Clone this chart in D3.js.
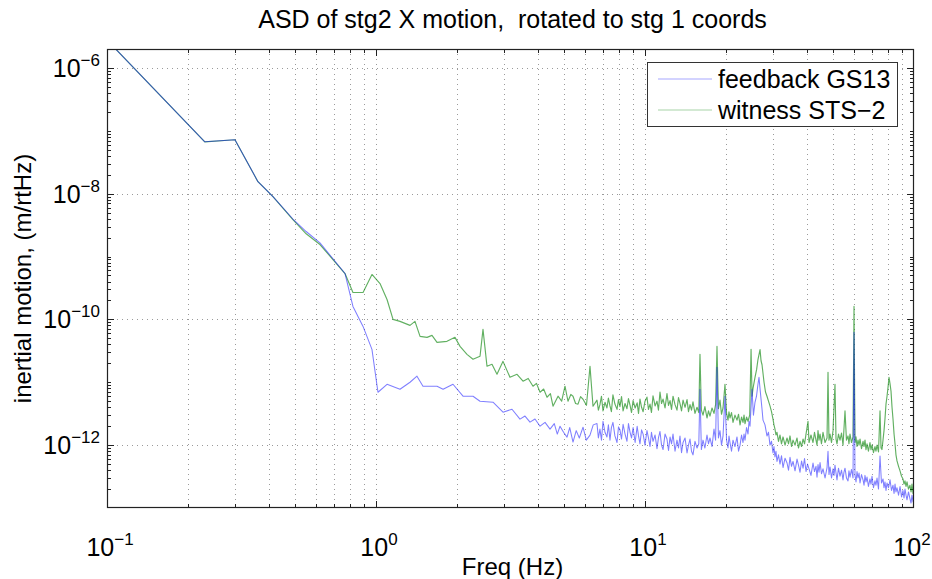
<!DOCTYPE html>
<html><head><meta charset="utf-8">
<script src="https://cdn.jsdelivr.net/npm/d3@7/dist/d3.min.js"></script>
<style>
body{margin:0;background:#fff}
text{font-family:"Liberation Sans",Arial,Helvetica,sans-serif;fill:#000}
</style>
</head><body>
<svg id="chart" width="932" height="579"></svg>
<script>
const title = "ASD of stg2 X motion,  rotated to stg 1 coords";
const xLabel = "Freq (Hz)";
const yLabel = "inertial motion, (m/rtHz)";
const seriesNames = ["feedback GS13", "witness STS\u22122"];
const xTickExps = [-1, 0, 1, 2];
const yTickExps = [-6, -8, -10, -12];
const xDomain = [0.1, 100];
const yDomain = [1e-13, 2e-6];

// [frequency (Hz), ASD (m/rtHz)]
const feedbackGS13 = [
 [0.1,2.78e-6],[0.231,6.68e-8],[0.299,7.2e-8],[0.364,1.55e-8],[0.414,8.96e-9],[0.491,3.95e-9],[0.55,2.5e-9],[0.619,1.65e-9],[0.767,5.37e-10],
 [0.821,1.61e-10],[0.895,7.74e-11],[0.966,3.34e-11],[1.017,6.94e-12],[1.099,9.29e-12],[1.228,7.74e-12],[1.338,1.0e-11],[1.42,1.25e-11],
 [1.495,8.65e-12],[1.686,8.65e-12],[1.776,7.74e-12],[1.933,9.29e-12],[2.106,6.0e-12],[2.294,6.0e-12],[2.436,4.99e-12],[2.722,4.82e-12],
 [2.966,3.34e-12],[3.203,3.72e-12],[3.43,2.59e-12],[3.58,2.9e-12],[3.737,2.32e-12],[3.9,2.6e-12],[4.072,2.0e-12],[4.25,2.3e-12],
 [4.436,1.8e-12],[4.6,2.2e-12],[4.72,1.5e-12],[4.831,2.0e-12],[4.98,1.6e-12],[5.13,1.34e-12],[5.25,1.9e-12],[5.4,1.12e-12],
 [5.55,1.7e-12],[5.7,1.3e-12],[5.883,1.93e-12],[6.05,1.2e-12],[6.245,1.44e-12],[6.42,2.1e-12],
 [6.63,2.2e-12],[6.71,1.3e-12],[6.8,1.8e-12],[6.89,1.2e-12],[6.98,2.4e-12],[7.1,1.6e-12],[7.22,1.35e-12],[7.31,2.1e-12],[7.41,1.2e-12],
 [7.5,1.9e-12],[7.6,2.3e-12],[7.73,1.4e-12],[7.87,1.1e-12],[7.97,1.95e-12],[8.07,1.75e-12],[8.18,1.25e-12],[8.29,2.15e-12],[8.43,1.5e-12],
 [8.57,1.15e-12],[8.68,2.2e-12],[8.8,1.6e-12],[8.91,1.3e-12],[9.03,1.9e-12],[9.19,1.1e-12],[9.35,2.0e-12],[9.46,1.4e-12],[9.58,1.05e-12],
 [9.71,1.75e-12],[9.84,1.5e-12],[10.0,1.0e-12],[10.17,1.7e-12],[10.3,1.3e-12],[10.44,9.5e-13],[10.57,1.6e-12],[10.71,1.15e-12],
 [10.9,1.45e-12],[11.08,8.8e-13],[11.22,1.3e-12],[11.37,1.65e-12],[11.52,1.0e-12],[11.67,8.5e-13],[11.87,1.5e-12],[12.07,1.25e-12],
 [12.23,8.2e-13],[12.39,1.35e-12],[12.55,1.05e-12],[12.71,1.5e-12],[12.93,8.0e-13],[13.15,1.2e-12],[13.32,9.0e-13],[13.49,1.4e-12],
 [13.67,7.6e-13],[13.85,1.1e-12],[14.09,1.3e-12],[14.33,7.5e-13],[14.51,1.0e-12],[14.7,1.25e-12],[14.89,8.0e-13],[15.08,7.0e-13],
 [15.34,1.15e-12],[15.61,9.0e-13],[15.85,1.05e-12],[16.01,7.74e-12],[16.2,8.5e-13],[16.43,1.2e-12],[16.7,9.0e-13],[17.0,1.45e-12],
 [17.22,1.05e-12],[17.44,1.3e-12],[17.75,9.5e-13],[18.05,1.8e-12],[18.3,1.2e-12],[18.52,1.73e-11],[18.75,1.3e-12],[19.0,1.7e-12],
 [19.25,1.0e-12],[19.5,1.4e-12],[19.83,6.0e-12],[20.1,1.2e-12],[20.35,9.0e-13],[20.52,1.4e-12],[20.7,1.1e-12],[20.97,8.0e-13],
 [21.24,1.2e-12],[21.6,9.5e-13],[21.98,1.35e-12],[22.27,8.0e-13],[22.56,1.0e-12],[22.85,1.45e-12],[23.14,1.1e-12],[23.34,1.5e-12],
 [23.54,1.2e-12],[23.85,1.9e-12],[24.15,1.5e-12],[24.36,2.4e-12],[24.57,2.0e-12],[24.99,7.74e-12],[25.3,3.0e-12],[25.64,4.8e-12],
 [25.97,6.0e-12],[26.3,9.3e-12],[26.53,1.2e-11],[26.76,8.0e-12],[26.99,5.5e-12],[27.22,3.8e-12],[27.46,2.5e-12],[27.93,2.1e-12],
 [28.41,1.4e-12],[28.78,1.6e-12],[29.15,1.0e-12],[29.53,1.15e-12],[29.91,7.5e-13],[30.16,9.5e-13],[30.42,6.5e-13],[30.68,8.0e-13],
 [30.95,5.5e-13],[31.35,7.0e-13],[31.76,5.0e-13],[32.17,6.8e-13],[32.59,4.4e-13],[33.16,6.2e-13],[33.73,5.2e-13],[34.16,4.0e-13],
 [34.6,6.4e-13],[35.05,4.6e-13],[35.5,5.5e-13],[36.12,3.9e-13],[36.74,6.0e-13],[37.2,4.8e-13],[37.7,3.7e-13],[38.19,5.6e-13],
 [38.68,4.3e-13],[39.18,6.1e-13],[39.68,3.8e-13],[40.2,5.0e-13],[40.72,4.2e-13],[41.4,3.3e-13],[42.13,5.2e-13],[42.67,3.8e-13],
 [43.22,4.6e-13],[43.6,3.1e-13],[43.97,4.9e-13],[44.35,3.7e-13],[44.74,5.3e-13],[45.3,3.5e-13],[45.89,4.2e-13],[46.7,3.0e-13],
 [47.5,4.4e-13],[47.9,8.0e-13],[48.3,3.4e-13],[48.73,4.5e-13],[49.36,3.0e-13],[50.0,4.2e-13],[50.42,3.3e-13],[50.85,4.8e-13],
 [51.3,3.6e-13],[51.73,2.8e-13],[52.4,4.3e-13],[53.08,3.2e-13],[53.77,4.0e-13],[54.47,2.8e-13],[54.9,3.7e-13],[55.4,4.3e-13],
 [56.1,3.0e-13],[56.85,2.7e-13],[57.3,3.9e-13],[57.82,3.1e-13],[58.57,4.1e-13],[59.33,3.0e-13],[59.84,6.22e-11],[60.35,3.3e-13],
 [60.87,2.6e-13],[61.4,3.8e-13],[61.93,3.0e-13],[62.47,3.6e-13],[63.0,2.5e-13],[63.8,3.4e-13],[64.64,2.8e-13],[65.2,2.3e-13],
 [65.74,3.3e-13],[66.3,2.6e-13],[66.89,3.1e-13],[67.7,2.2e-13],[68.6,2.9e-13],[69.2,2.4e-13],[69.81,3.2e-13],[70.7,2.1e-13],
 [71.6,2.7e-13],[72.2,2.3e-13],[72.87,3.0e-13],[73.8,2.0e-13],[74.76,6.7e-13],[75.7,2.5e-13],[76.71,2.9e-13],[77.35,2.1e-13],
 [78.0,2.6e-13],[78.7,1.9e-13],[79.38,2.5e-13],[80.4,2.1e-13],[81.44,2.8e-13],[82.5,1.9e-13],[83.55,2.3e-13],[84.3,1.7e-13],
 [85.01,2.4e-13],[85.7,1.8e-13],[86.46,2.1e-13],[87.6,1.6e-13],[88.73,2.2e-13],[89.9,1.5e-13],[91.0,1.9e-13],[91.8,1.45e-13],
 [92.58,2.0e-13],[93.4,1.6e-13],[94.19,1.35e-13],[95.4,1.8e-13],[96.62,1.4e-13],[97.5,1.2e-13],[98.3,1.6e-13],[99.2,1.25e-13],[100,1.5e-13]
];

const witnessSTS2 = [
 [0.1,2.78e-6],[0.231,6.68e-8],[0.299,7.2e-8],[0.364,1.55e-8],[0.414,8.96e-9],[0.491,3.87e-9],[0.55,2.3e-9],[0.619,1.55e-9],[0.767,5.37e-10],
 [0.821,2.68e-10],[0.895,2.68e-10],[0.966,5.18e-10],[1.035,3.72e-10],[1.099,2.07e-10],[1.157,1.0e-10],[1.228,9.29e-11],[1.338,8.04e-11],
 [1.396,9.29e-11],[1.458,5.37e-11],[1.548,5.18e-11],[1.615,5.57e-11],[1.686,4.32e-11],[1.836,4.48e-11],[1.966,5.18e-11],[2.053,3.72e-11],
 [2.179,2.78e-11],[2.294,2.32e-11],[2.436,2.59e-11],[2.499,6.93e-11],[2.586,1.8e-11],[2.699,1.93e-11],[2.817,1.34e-11],[2.966,2.15e-11],
 [3.148,1.2e-11],[3.344,1.34e-11],[3.52,1.04e-11],[3.68,1.15e-11],[3.834,8.65e-12],[3.95,9.6e-12],[4.072,6.94e-12],[4.2,7.8e-12],
 [4.322,5.78e-12],[4.45,6.6e-12],[4.55,4.16e-12],[4.75,6.0e-12],[4.9,5.0e-12],[5.042,8.65e-12],[5.173,4.99e-12],[5.3,6.4e-12],
 [5.4,6.0e-12],[5.52,4.6e-12],[5.637,4.48e-12],[5.76,5.9e-12],[5.883,5.37e-12],[6.06,4.3e-12],[6.245,1.8e-11],[6.408,4.16e-12],
 [6.63,5.2e-12],[6.71,3.6e-12],[6.8,4.4e-12],[6.89,6.0e-12],[6.98,3.5e-12],[7.1,4.8e-12],[7.22,3.9e-12],[7.31,5.6e-12],[7.41,4.2e-12],
 [7.5,3.4e-12],[7.6,6.3e-12],[7.73,4.5e-12],[7.87,3.7e-12],[7.97,5.3e-12],[8.07,4.1e-12],[8.18,5.9e-12],[8.29,3.5e-12],[8.43,4.6e-12],
 [8.57,3.8e-12],[8.68,5.5e-12],[8.8,4.3e-12],[8.91,3.3e-12],[9.03,5.1e-12],[9.19,3.9e-12],[9.35,4.7e-12],[9.46,3.2e-12],[9.58,5.4e-12],
 [9.71,4.0e-12],[9.84,3.4e-12],[10.0,5.0e-12],[10.17,5.8e-12],[10.3,3.7e-12],[10.44,4.5e-12],[10.57,3.3e-12],[10.71,6.1e-12],
 [10.9,4.2e-12],[11.08,5.0e-12],[11.22,3.6e-12],[11.37,7.0e-12],[11.52,4.6e-12],[11.67,5.4e-12],[11.87,3.9e-12],[12.07,6.6e-12],
 [12.23,4.3e-12],[12.39,5.1e-12],[12.55,3.7e-12],[12.71,6.0e-12],[12.93,4.4e-12],[13.15,3.6e-12],[13.32,5.7e-12],[13.49,4.6e-12],
 [13.67,3.5e-12],[13.85,5.2e-12],[14.09,4.0e-12],[14.33,5.3e-12],[14.51,3.4e-12],[14.7,4.4e-12],[14.89,3.6e-12],[15.08,4.9e-12],
 [15.34,3.2e-12],[15.61,4.0e-12],[15.85,3.3e-12],[16.01,2.78e-11],[16.2,3.6e-12],[16.43,3.0e-12],[16.7,4.1e-12],[17.0,2.7e-12],
 [17.22,3.5e-12],[17.44,2.9e-12],[17.75,3.9e-12],[18.05,3.2e-12],[18.3,4.4e-12],[18.52,3.72e-11],[18.75,3.8e-12],[19.0,5.2e-12],
 [19.25,3.1e-12],[19.5,3.9e-12],[19.83,9.3e-12],[20.1,3.2e-12],[20.35,2.5e-12],[20.52,3.4e-12],[20.7,2.7e-12],[20.97,3.3e-12],
 [21.24,2.3e-12],[21.6,3.0e-12],[21.98,2.5e-12],[22.27,3.1e-12],[22.56,2.1e-12],[22.85,2.8e-12],[23.14,2.3e-12],[23.34,3.0e-12],
 [23.54,2.2e-12],[23.85,2.8e-12],[24.15,2.4e-12],[24.5,3.0e-12],[24.79,3.34e-11],[25.0,6.0e-12],[25.21,8.0e-12],[25.64,1.2e-11],
 [26.0,1.6e-11],[26.3,2.3e-11],[26.77,3.3e-11],[27.0,2.2e-11],[27.23,1.9e-11],[27.7,1.0e-11],[28.05,7.0e-12],[28.41,6.0e-12],
 [28.78,5.0e-12],[29.15,4.2e-12],[29.53,3.4e-12],[29.91,2.6e-12],[30.16,2.1e-12],[30.42,1.8e-12],[30.68,1.45e-12],[30.95,1.6e-12],
 [31.35,1.15e-12],[31.76,1.45e-12],[32.17,1.05e-12],[32.59,1.35e-12],[33.16,1.0e-12],[33.73,1.3e-12],[34.16,1.05e-12],[34.6,1.4e-12],
 [35.05,9.5e-13],[35.5,1.2e-12],[36.12,1.0e-12],[36.74,1.3e-12],[37.2,9.0e-13],[37.7,1.15e-12],[38.19,9.5e-13],[38.68,1.25e-12],
 [39.18,1.05e-12],[39.68,1.5e-12],[40.36,2.4e-12],[40.72,1.1e-12],[41.4,1.45e-12],[42.13,1.1e-12],[42.67,1.6e-12],[43.22,1.2e-12],
 [43.6,1.0e-12],[43.97,1.7e-12],[44.35,1.2e-12],[44.74,1.5e-12],[45.3,1.05e-12],[45.89,1.6e-12],[46.7,1.1e-12],[47.5,1.3e-12],
 [47.9,1.44e-11],[48.3,1.2e-12],[48.73,1.5e-12],[49.36,1.1e-12],[50.0,1.7e-12],[50.85,9.3e-12],[51.3,1.25e-12],[51.73,1.05e-12],
 [52.4,1.5e-12],[53.08,1.2e-12],[53.77,1.55e-12],[54.47,1.0e-12],[55.4,3.5e-12],[56.1,1.2e-12],[56.85,1.4e-12],[57.3,1.05e-12],
 [57.82,1.5e-12],[58.57,1.1e-12],[59.33,1.35e-12],[59.84,1.61e-10],[60.35,1.1e-12],[60.87,1.35e-12],[61.4,9.5e-13],[61.93,1.2e-12],
 [62.47,1.0e-12],[63.0,1.25e-12],[63.8,8.8e-13],[64.64,1.15e-12],[65.2,9.5e-13],[65.74,1.2e-12],[66.3,8.5e-13],[66.89,1.05e-12],
 [67.7,8.0e-13],[68.6,1.1e-12],[69.2,8.5e-13],[69.81,1.0e-12],[70.7,7.6e-13],[71.6,9.5e-13],[72.2,8.0e-13],[72.87,1.0e-12],
 [73.8,7.8e-13],[74.76,3.5e-12],[75.4,9.0e-13],[76.0,8.5e-13],[76.7,1.2e-12],[77.36,1.7e-12],[78.0,2.6e-12],[78.69,4.5e-12],
 [79.38,6.0e-12],[80.06,8.3e-12],[80.75,1.2e-11],[81.44,9.5e-12],[82.14,7.2e-12],[82.85,4.0e-12],[83.55,2.6e-12],[84.3,1.5e-12],
 [85.01,1.05e-12],[85.7,7.0e-13],[86.46,5.6e-13],[87.6,4.6e-13],[88.73,3.9e-13],[89.9,3.2e-13],[91.0,2.9e-13],[91.8,2.4e-13],
 [92.58,2.7e-13],[93.4,2.2e-13],[94.19,2.6e-13],[95.4,2.0e-13],[96.62,2.3e-13],[97.5,1.8e-13],[98.3,2.4e-13],[99.2,1.7e-13],[100,1.9e-13]
];

const seriesColors = ["#0000ff", "#007f00"];

const svg = d3.select("#chart");
const M = {l:107, r:914, t:49, b:508};
const x = d3.scaleLog().domain(xDomain).range([M.l, M.r]);
const y = d3.scaleLog().domain(yDomain).range([M.b, M.t]);

svg.append("rect").attr("width",932).attr("height",579).attr("fill","#fff");

// grid
const xMinor = [];
for (let e = -1; e < 2; e++) for (let k = 1; k <= 9; k++) {
  const v = k * Math.pow(10, e);
  if (v > xDomain[0] * 1.0001 && v < xDomain[1] * 0.9999) xMinor.push(v);
}
const grid = svg.append("g").attr("stroke","#9a9a9a").attr("stroke-width",1).attr("stroke-dasharray","1,4");
grid.selectAll("line.vx").data(xMinor).join("line")
  .attr("x1",d=>Math.round(x(d))+0.5).attr("x2",d=>Math.round(x(d))+0.5).attr("y1",M.t).attr("y2",M.b);
grid.selectAll("line.hy").data(yTickExps.map(e=>Math.pow(10,e))).join("line")
  .attr("y1",d=>Math.round(y(d))+0.5).attr("y2",d=>Math.round(y(d))+0.5).attr("x1",M.l).attr("x2",M.r);

// ticks
const tk = svg.append("g").attr("stroke","#222").attr("stroke-width",1);
const xMaj = xTickExps.map(e=>Math.pow(10,e));
xMinor.forEach(v=>{
  const isMaj = xMaj.some(m=>Math.abs(m-v)/m<1e-6);
  const L = isMaj ? 7 : 4;
  const px = Math.round(x(v))+0.5;
  tk.append("line").attr("x1",px).attr("x2",px).attr("y1",M.b).attr("y2",M.b-L);
  tk.append("line").attr("x1",px).attr("x2",px).attr("y1",M.t).attr("y2",M.t+L);
});
const yMajV = yTickExps.map(e=>Math.pow(10,e));
for (let e = -13; e <= -6; e++) for (let k = 1; k <= 9; k++) {
  const v = k * Math.pow(10, e);
  if (v < yDomain[0]*1.0001 || v > yDomain[1]*0.9999) continue;
  const isMaj = yMajV.some(m=>Math.abs(m-v)/m<1e-6);
  const L = isMaj ? 7 : 4;
  const py = Math.round(y(v))+0.5;
  tk.append("line").attr("y1",py).attr("y2",py).attr("x1",M.l).attr("x2",M.l+L);
  tk.append("line").attr("y1",py).attr("y2",py).attr("x1",M.r).attr("x2",M.r-L);
}

// lines (green first, blue drawn over it)
svg.append("clipPath").attr("id","clip").append("rect")
  .attr("x",M.l).attr("y",M.t).attr("width",M.r-M.l).attr("height",M.b-M.t);
const line = d3.line().x(d=>x(d[0])).y(d=>y(d[1]));
const plotG = svg.append("g").attr("clip-path","url(#clip)");
const styles = [{w:1.05, o:0.5}, {w:1.15, o:0.62}];
[1, 0].forEach(i=>{
  const s = i === 0 ? feedbackGS13 : witnessSTS2;
  plotG.append("path").datum(s).attr("d",line).attr("fill","none")
    .attr("stroke",seriesColors[i]).attr("stroke-width",styles[i].w).attr("stroke-opacity",styles[i].o)
    .attr("stroke-linejoin","round");
});

// axes box
svg.append("rect").attr("x",M.l+0.5).attr("y",M.t+0.5).attr("width",M.r-M.l-1).attr("height",M.b-M.t-1)
  .attr("fill","none").attr("stroke","#222").attr("stroke-width",1.2);

// tick labels
function powLabel(g, e, px, py, anchor){
  const t = g.append("text").attr("x",px).attr("y",py).attr("text-anchor",anchor).attr("font-size",25);
  t.append("tspan").text("10");
  t.append("tspan").attr("dy",-11).attr("font-size",17).text(e<0 ? "\u2212"+(-e) : String(e));
  return t;
}
const lab = svg.append("g");
xTickExps.forEach(e=> powLabel(lab, e, Math.min(x(Math.pow(10,e))+3, 912), 556, "middle"));
yTickExps.forEach(e=> powLabel(lab, e, 100, y(Math.pow(10,e))+9, "end"));

// titles
svg.append("text").attr("x",(M.l+M.r)/2+2).attr("y",28).attr("text-anchor","middle")
  .attr("font-size",25).style("white-space","pre").text(title);
svg.append("text").attr("x",(M.l+M.r)/2+2).attr("y",575).attr("text-anchor","middle")
  .attr("font-size",24).text(xLabel);
svg.append("text").attr("transform",`translate(31,${(M.t+M.b)/2}) rotate(-90)`).attr("text-anchor","middle")
  .attr("font-size",24).text(yLabel);

// legend
const lg = svg.append("g");
lg.append("rect").attr("x",647.5).attr("y",62.5).attr("width",250).attr("height",64)
  .attr("fill","#fff").attr("stroke","#333").attr("stroke-width",1);
seriesNames.forEach((n,i)=>{
  const yy = 79 + i*31;
  lg.append("line").attr("x1",658).attr("x2",712).attr("y1",yy).attr("y2",yy)
    .attr("stroke",seriesColors[i]).attr("stroke-width",1.2).attr("stroke-opacity",0.35);
  lg.append("text").attr("x",718).attr("y",yy+9).attr("font-size",25).text(n);
});
</script>
</body></html>
